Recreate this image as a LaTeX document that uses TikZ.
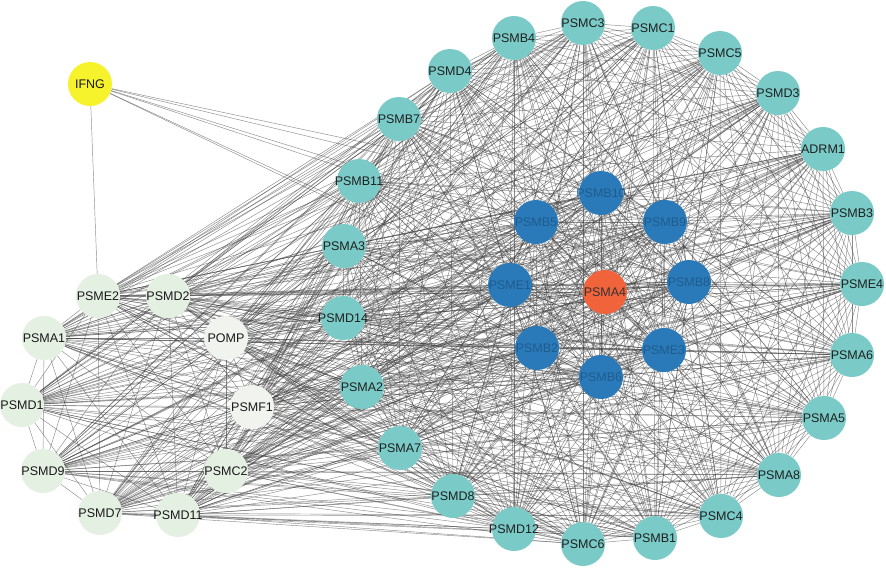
\documentclass[tikz,border=0pt]{standalone}
\usepackage{fontspec}
\setmainfont{Liberation Sans}
\pgfdeclarelayer{bg}
\pgfsetlayers{bg,main}
\definecolor{teal1}{HTML}{7ACBC8}
\definecolor{blue1}{HTML}{2A7AB9}
\definecolor{blueTxt}{HTML}{1F5C8E}
\definecolor{red1}{HTML}{F0633B}
\definecolor{yel1}{HTML}{F6F22B}
\definecolor{left1}{HTML}{E4F0E2}
\definecolor{left2}{HTML}{F1F3EF}
\definecolor{edgec}{HTML}{404040}
\begin{document}
\begin{tikzpicture}[x=1pt,y=-1pt,
  gene/.style={circle,minimum size=44pt,inner sep=-12pt,font=\fontsize{12.5}{12.5}\selectfont},
  outer/.style={gene,fill=teal1,text=black!88},
  inner/.style={gene,fill=blue1,text=blueTxt},
  hub/.style={gene,fill=red1,text=black!80},
  leftn/.style={gene,fill=left1,text=black!90},
  leftw/.style={gene,fill=left2,text=black!90},
  ifn/.style={gene,fill=yel1,text=black!90},
  edge/.style={draw=edgec,line width=0.45pt,opacity=0.6}]
\useasboundingbox (0,0) rectangle (886,568);
\begin{pgfonlayer}{bg}
\fill[white] (0,0) rectangle (886,568);
\end{pgfonlayer}
% outer ring
\node[outer] (PSMB4) at (514,38) {PSMB4};
\node[outer] (PSMC3) at (583,23) {PSMC3};
\node[outer] (PSMC1) at (653,28) {PSMC1};
\node[outer] (PSMC5) at (720,53) {PSMC5};
\node[outer] (PSMD3) at (778,93) {PSMD3};
\node[outer] (ADRM1) at (823,149) {ADRM1};
\node[outer] (PSMB3) at (852,213) {PSMB3};
\node[outer] (PSME4) at (862,284) {PSME4};
\node[outer] (PSMA6) at (852,355) {PSMA6};
\node[outer] (PSMA5) at (824,418) {PSMA5};
\node[outer] (PSMA8) at (779,475) {PSMA8};
\node[outer] (PSMC4) at (721,516) {PSMC4};
\node[outer] (PSMB1) at (655,538) {PSMB1};
\node[outer] (PSMC6) at (583,544) {PSMC6};
\node[outer] (PSMD12) at (514,529) {PSMD12};
\node[outer] (PSMD8) at (453,496) {PSMD8};
\node[outer] (PSMA7) at (400,448) {PSMA7};
\node[outer] (PSMA2) at (362,387) {PSMA2};
\node[outer] (PSMD14) at (343,318) {PSMD14};
\node[outer] (PSMA3) at (344,246) {PSMA3};
\node[outer] (PSMB11) at (359,181) {PSMB11};
\node[outer] (PSMB7) at (399,119) {PSMB7};
\node[outer] (PSMD4) at (450,71) {PSMD4};
% inner ring
\node[inner] (PSMB10) at (601,193) {PSMB10};
\node[inner] (PSMB5) at (536,222) {PSMB5};
\node[inner] (PSMB9) at (665,222) {PSMB9};
\node[inner] (PSME1) at (510,285) {PSME1};
\node[inner] (PSMB8) at (689,282) {PSMB8};
\node[inner] (PSMB2) at (537,348) {PSMB2};
\node[inner] (PSME3) at (664,350) {PSME3};
\node[inner] (PSMB6) at (601,377) {PSMB6};
\node[hub] (PSMA4) at (605,292) {PSMA4};
% left group
\node[leftn] (PSME2) at (98,296) {PSME2};
\node[leftn] (PSMD2) at (168,296) {PSMD2};
\node[leftn] (PSMA1) at (44,338) {PSMA1};
\node[leftw] (POMP) at (226,338) {POMP};
\node[leftn] (PSMD1) at (22,405) {PSMD1};
\node[leftw] (PSMF1) at (252,407) {PSMF1};
\node[leftn] (PSMD9) at (43,471) {PSMD9};
\node[leftn] (PSMC2) at (226,471) {PSMC2};
\node[leftn] (PSMD7) at (100,513) {PSMD7};
\node[leftn] (PSMD11) at (178,515) {PSMD11};
\node[ifn] (IFNG) at (90,84) {IFNG};
\def\mainlist{PSMB4,PSMC3,PSMC1,PSMC5,PSMD3,ADRM1,PSMB3,PSME4,PSMA6,PSMA5,PSMA8,PSMC4,PSMB1,PSMC6,PSMD12,PSMD8,PSMA7,PSMA2,PSMD14,PSMA3,PSMB11,PSMB7,PSMD4,PSMB10,PSMB5,PSMB9,PSME1,PSMB8,PSMB2,PSME3,PSMB6,PSMA4}
\def\leftlist{PSME2,PSMD2,PSMA1,POMP,PSMD1,PSMF1,PSMD9,PSMC2,PSMD7,PSMD11}
\begin{pgfonlayer}{bg}
\foreach \a [count=\i] in \mainlist {
  \foreach \b [count=\j] in \mainlist {
    \ifnum\j>\i \draw[edge] (\a) -- (\b); \fi
  }
}
\foreach \a in \leftlist {
  \foreach \b in \mainlist {
    \draw[edge] (\a) -- (\b);
  }
}
\foreach \a [count=\i] in \leftlist {
  \foreach \b [count=\j] in \leftlist {
    \ifnum\j>\i \draw[edge] (\a) -- (\b); \fi
  }
}
\foreach \b in {PSME2,PSMB10,PSMB9,PSMB8,PSMB5,PSME1,PSME3} {
  \draw[edge] (IFNG) -- (\b);
}
\end{pgfonlayer}
\end{tikzpicture}
\end{document}
